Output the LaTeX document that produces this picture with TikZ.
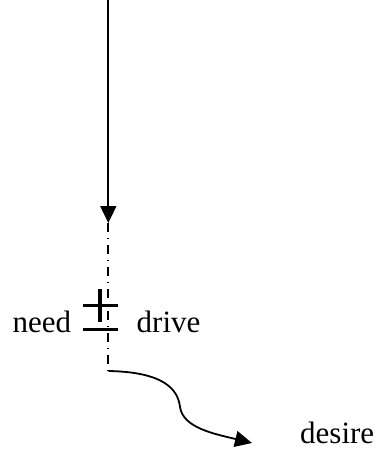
\documentclass[tikz,border=0pt]{standalone}
\usepackage{fontspec}
\setmainfont{Liberation Serif}
\usetikzlibrary{arrows.meta}
\begin{document}
\begin{tikzpicture}[x=1pt,y=-1pt,
  label text/.style={font=\fontsize{31}{37}\selectfont, inner sep=0pt, anchor=base west},
  flow/.style={line width=1.8pt},
  tip/.style={-{Triangle[length=17pt,width=16pt]}},
  dashdot line/.style={line width=1.8pt, dash pattern=on 9pt off 5.5pt on 1.5pt off 6pt},
  bar/.style={line width=3.4pt}]
\useasboundingbox (0,0) rectangle (379,450);
\coordinate (top) at (108.3,0);
\coordinate (arrowtip) at (108.3,223);
\coordinate (bend) at (108.3,371);
\coordinate (endtip) at (252,443);
\coordinate (plusL) at (82.5,305.7);
\coordinate (plusR) at (118,305.7);
\coordinate (plusT) at (100,289);
\coordinate (plusB) at (100,322);
\coordinate (minusL) at (82.5,329.3);
\coordinate (minusR) at (118,329.3);
\draw[flow,tip] (top) -- (arrowtip);
\draw[dashdot line] (arrowtip) -- (bend);
\draw[flow,tip] (bend) .. controls (165,372) and (178,390) .. (180,407)
   .. controls (183,428) and (215,434) .. (endtip);
\draw[bar] (plusL) -- (plusR);
\draw[bar] (plusT) -- (plusB);
\draw[bar] (minusL) -- (minusR);
\node[label text] (need) at (12.5,332) {need};
\node[label text] (drive) at (136.5,332) {drive};
\node[label text] (desire) at (300,443) {desire};
\end{tikzpicture}
\end{document}
